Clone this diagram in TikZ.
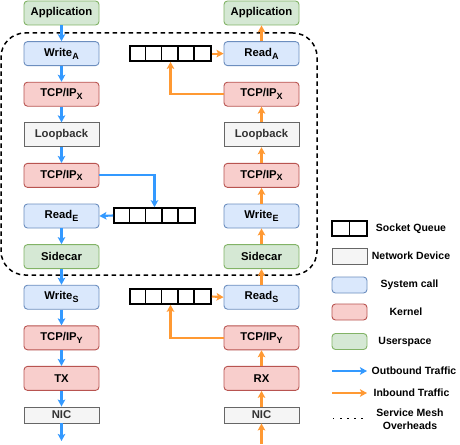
\documentclass[tikz,border=0pt]{standalone}
\usepackage{fontspec}
\setmainfont{Liberation Sans}
\usetikzlibrary{arrows.meta}
\definecolor{sysf}{HTML}{DAE8FC}\definecolor{sysd}{HTML}{6C8EBF}
\definecolor{kerf}{HTML}{F8CECC}\definecolor{kerd}{HTML}{B85450}
\definecolor{usrf}{HTML}{D5E8D4}\definecolor{usrd}{HTML}{82B366}
\definecolor{devf}{HTML}{F5F5F5}\definecolor{devd}{HTML}{666666}\definecolor{devt}{HTML}{333333}
\definecolor{outc}{HTML}{3399FF}\definecolor{inc}{HTML}{FF9933}
\newcommand{\sbs}[1]{\raisebox{-2.8pt}{\fontsize{9}{10}\selectfont #1}}
\tikzset{
  box/.style={minimum width=75pt, minimum height=24pt, inner sep=0pt, line width=0.9pt,
    font=\fontsize{11.3}{13}\selectfont\bfseries},
  sys/.style={box, rounded corners=3.5pt, draw=sysd, fill=sysf},
  ker/.style={box, rounded corners=3.5pt, draw=kerd, fill=kerf},
  usr/.style={box, rounded corners=3.5pt, draw=usrd, fill=usrf},
  dev/.style={box, draw=devd, fill=devf, text=devt},
  queue/.style={draw=black, line width=1.6pt, minimum width=81pt, minimum height=15pt, inner sep=0pt},
  qline/.style={draw=black, line width=1.6pt},
  outa/.style={draw=outc, line width=2.1pt, -{Stealth[length=7pt,width=7.5pt,inset=1.5pt]}},
  ina/.style={draw=inc, line width=2.1pt, -{Stealth[length=7pt,width=7.5pt,inset=1.5pt]}},
  legicon/.style={minimum width=35pt, minimum height=16pt, inner sep=0pt, line width=0.9pt},
  legtext/.style={font=\fontsize{10.5}{12.5}\selectfont\bfseries, inner sep=0pt, align=center},
  mesh/.style={draw=black, line width=1.5pt, dash pattern=on 4.5pt off 3.5pt, rounded corners=24pt,
    minimum width=316pt, minimum height=242pt, inner sep=0pt},
}
\begin{document}
\begin{tikzpicture}[x=1pt,y=-1pt]
\useasboundingbox (0,0) rectangle (460,444);
\fill[white] (0,0) rectangle (460,444);
% mesh overhead region
\node[mesh] (meshbox) at (159,154) {};
% left column
\node[usr] (la)  at (61.5,13)    {Application};
\node[sys] (lw)  at (61.5,53.6)  {Write\sbs{A}};
\node[ker] (lt1) at (61.5,94.2)  {TCP/IP\sbs{X}};
\node[dev] (llb) at (61.5,134.8) {Loopback};
\node[ker] (lt2) at (61.5,175.4) {TCP/IP\sbs{X}};
\node[sys] (lre) at (61.5,216)   {Read\sbs{E}};
\node[usr] (lsc) at (61.5,256.6) {Sidecar};
\node[sys] (lws) at (61.5,297.2) {Write\sbs{S}};
\node[ker] (lty) at (61.5,337.8) {TCP/IP\sbs{Y}};
\node[ker] (ltx) at (61.5,378.4) {TX};
\node[dev, minimum height=16pt] (lnic) at (61.5,415) {NIC};
\coordinate (lend) at (61.5,441);
% right column
\node[usr] (ra)  at (261.5,13)    {Application};
\node[sys] (rr)  at (261.5,53.6)  {Read\sbs{A}};
\node[ker] (rt1) at (261.5,94.2)  {TCP/IP\sbs{X}};
\node[dev] (rlb) at (261.5,134.8) {Loopback};
\node[ker] (rt2) at (261.5,175.4) {TCP/IP\sbs{X}};
\node[sys] (rwe) at (261.5,216)   {Write\sbs{E}};
\node[usr] (rsc) at (261.5,256.6) {Sidecar};
\node[sys] (rrs) at (261.5,297.2) {Read\sbs{S}};
\node[ker] (rty) at (261.5,337.8) {TCP/IP\sbs{Y}};
\node[ker] (rrx) at (261.5,378.4) {RX};
\node[dev, minimum height=16pt] (rnic) at (261.5,415) {NIC};
\coordinate (rstart) at (261.5,444);
% queues
\node[queue] (qt) at (170.5,53.6) {};
\node[queue] (qm) at (154.5,215.5) {};
\node[queue] (qb) at (170.5,296.5) {};
\foreach \q in {qt,qm,qb}{
  \foreach \i in {1,...,4}{
    \draw[qline] (\q.north west) ++(16.2*\i,0) -- ++(0,15);
  }
}
% outbound
\draw[outa] (la) -- (lw);
\draw[outa] (lw) -- (lt1);
\draw[outa] (lt1) -- (llb);
\draw[outa] (llb) -- (lt2);
\draw[outa] (lt2.east) -| (qm.north);
\draw[outa] (qm.west) -- (lre.east);
\draw[outa] (lre) -- (lsc);
\draw[outa] (lsc) -- (lws);
\draw[outa] (lws) -- (lty);
\draw[outa] (lty) -- (ltx);
\draw[outa] (ltx) -- (lnic);
\draw[outa] (lnic) -- (lend);
% inbound
\draw[ina] (rstart) -- (rnic);
\draw[ina] (rnic) -- (rrx);
\draw[ina] (rrx) -- (rty);
\draw[ina] (rty.west) -| (qb.south);
\draw[ina] (qb.east) -- (rrs.west);
\draw[ina] (rrs) -- (rsc);
\draw[ina] (rsc) -- (rwe);
\draw[ina] (rwe) -- (rt2);
\draw[ina] (rt2) -- (rlb);
\draw[ina] (rlb) -- (rt1);
\draw[ina] (rt1.west) -| (qt.south);
\draw[ina] (qt.east) -- (rr.west);
\draw[ina] (rr) -- (ra);
% legend
\node[legicon, draw=black, line width=1.6pt, minimum height=15pt] (lgq) at (349.5,228.5) {};
\draw[qline] (lgq.north) -- (lgq.south);
\node[legtext] (lgqt) at (411,228.5) {Socket Queue};
\node[legicon, draw=devd, fill=devf] (lgd) at (349.5,256) {};
\node[legtext] (lgdt) at (411,256) {Network Device};
\node[legicon, draw=sysd, fill=sysf, rounded corners=3.5pt] (lgs) at (349.5,285) {};
\node[legtext] (lgst) at (409.5,285) {System call};
\node[legicon, draw=kerd, fill=kerf, rounded corners=3.5pt] (lgk) at (349.5,312) {};
\node[legtext] (lgkt) at (406,312) {Kernel};
\node[legicon, draw=usrd, fill=usrf, rounded corners=3.5pt] (lgu) at (349.5,341.5) {};
\node[legtext] (lgut) at (405,341.5) {Userspace};
\coordinate (lgo1) at (332,371); \coordinate (lgo2) at (367,371);
\draw[outa] (lgo1) -- (lgo2);
\node[legtext] (lgot) at (414,371) {Outbound Traffic};
\coordinate (lgi1) at (332,393); \coordinate (lgi2) at (367,393);
\draw[ina] (lgi1) -- (lgi2);
\node[legtext] (lgit) at (411.5,393) {Inbound Traffic};
\coordinate (lgm1) at (333,418.5); \coordinate (lgm2) at (364,418.5);
\draw[black, line width=1.4pt, dash pattern=on 1.4pt off 5.7pt] (lgm1) -- (lgm2);
\node[legtext] (lgmt) at (410,419) {Service Mesh\\Overheads};
\end{tikzpicture}
\end{document}
